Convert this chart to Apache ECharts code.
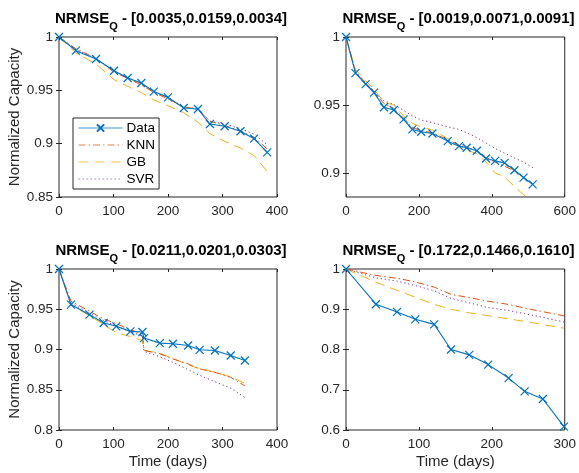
<!DOCTYPE html>
<html>
<head>
<meta charset="utf-8">
<script src="https://cdn.jsdelivr.net/npm/echarts@6/dist/echarts.min.js"></script>
<style>html,body{margin:0;padding:0;background:#fff}#c{width:579px;height:473px}</style>
</head>
<body>
<div id="c"></div>
<script>
// ---------- data ----------
const seriesNames = ['Data', 'KNN', 'GB', 'SVR'];
const titleErrors = ['[0.0035,0.0159,0.0034]', '[0.0019,0.0071,0.0091]', '[0.0211,0.0201,0.0303]', '[0.1722,0.1466,0.1610]'];

const p1Days = [0, 31, 68, 101, 126, 151, 174, 200, 229, 255, 277, 304, 333, 358, 382];
const p1Data = [1, 0.9872, 0.9794, 0.9684, 0.9616, 0.9569, 0.9488, 0.9434, 0.9334, 0.9325, 0.9184, 0.9163, 0.9116, 0.9047, 0.8919];
const p1KNN  = [1, 0.9890, 0.9800, 0.9670, 0.9612, 0.9550, 0.9480, 0.9420, 0.9345, 0.9320, 0.9210, 0.9170, 0.9120, 0.9060, 0.8950];
const p1GB   = [1, 0.9850, 0.9747, 0.9600, 0.9537, 0.9480, 0.9410, 0.9356, 0.9290, 0.9200, 0.9094, 0.9022, 0.8959, 0.8888, 0.8740];
const p1SVR  = [1, 0.9880, 0.9800, 0.9680, 0.9620, 0.9565, 0.9490, 0.9435, 0.9340, 0.9330, 0.9210, 0.9185, 0.9140, 0.9090, 0.8990];

const p2Days = [0, 26, 54, 77, 104, 131, 158, 182, 206, 237, 279, 310, 331, 359, 384, 409, 435, 462, 487, 512];
const p2Data = [1, 0.9734, 0.9653, 0.9591, 0.9483, 0.9463, 0.9394, 0.9320, 0.9303, 0.9290, 0.9234, 0.9197, 0.9185, 0.9163, 0.9106, 0.9089, 0.9074, 0.9020, 0.8966, 0.8916];
const p2KNN  = [1, 0.9745, 0.9665, 0.9600, 0.9510, 0.9475, 0.9405, 0.9335, 0.9310, 0.9295, 0.9245, 0.9205, 0.9190, 0.9160, 0.9115, 0.9080, 0.9050, 0.9015, 0.8970, 0.8920];
const p2GB   = [1, 0.9760, 0.9680, 0.9615, 0.9520, 0.9500, 0.9420, 0.9365, 0.9340, 0.9315, 0.9254, 0.9200, 0.9170, 0.9140, 0.9080, 0.9000, 0.8970, 0.8900, 0.8840, 0.8800];
const p2SVR  = [1, 0.9740, 0.9660, 0.9600, 0.9530, 0.9505, 0.9460, 0.9420, 0.9390, 0.9370, 0.9340, 0.9320, 0.9295, 0.9260, 0.9220, 0.9180, 0.9145, 0.9110, 0.9080, 0.9040];

const p3Days = [0, 22, 56, 82, 105, 131, 153, 156, 185, 209, 237, 258, 286, 315, 341];
const p3Data = [1, 0.9558, 0.9433, 0.9329, 0.9288, 0.9225, 0.9217, 0.9142, 0.9079, 0.9071, 0.9050, 0.8996, 0.8988, 0.8925, 0.8863];
const p3KNN  = [1, 0.9600, 0.9475, 0.9380, 0.9320, 0.9246, 0.9196, 0.8990, 0.8946, 0.8883, 0.8820, 0.8760, 0.8717, 0.8654, 0.8550];
const p3GB   = [1, 0.9550, 0.9420, 0.9310, 0.9210, 0.9160, 0.9110, 0.8990, 0.8950, 0.8890, 0.8810, 0.8760, 0.8720, 0.8660, 0.8580];
const p3SVR  = [1, 0.9580, 0.9450, 0.9360, 0.9290, 0.9220, 0.9170, 0.8975, 0.8910, 0.8840, 0.8750, 0.8680, 0.8600, 0.8520, 0.8404];

const p4Days = [0, 41, 70, 95, 121, 144, 169, 195, 223, 245, 270, 299];
const p4Data = [1, 0.9125, 0.8933, 0.8750, 0.8625, 0.8000, 0.7867, 0.7625, 0.7290, 0.6960, 0.6770, 0.6083];
const p4KNN  = [1, 0.9840, 0.9770, 0.9680, 0.9550, 0.9370, 0.9290, 0.9200, 0.9120, 0.9030, 0.8940, 0.8835];
const p4GB   = [1, 0.9670, 0.9470, 0.9300, 0.9120, 0.9000, 0.8910, 0.8840, 0.8760, 0.8700, 0.8620, 0.8530];
const p4SVR  = [1, 0.9780, 0.9700, 0.9590, 0.9460, 0.9270, 0.9160, 0.9040, 0.8970, 0.8890, 0.8800, 0.8680];

// axis tick definitions
const xTicks = [[0,100,200,300,400],[0,200,400,600],[0,100,200,300,400],[0,100,200,300]];
const yTicks = [[0.85,0.9,0.95,1],[0.9,0.95,1],[0.8,0.85,0.9,0.95,1],[0.6,0.7,0.8,0.9,1]];
const yMins = [0.85, 0.8823, 0.8, 0.6];

// ---------- layout / style ----------
const FONT = '"Liberation Sans", Arial, Helvetica, sans-serif';
const AX = '#262626';
const grids = [
  {left: 59, top: 37, width: 218, height: 160},
  {left: 346, top: 37, width: 219, height: 160},
  {left: 59, top: 269, width: 218, height: 161},
  {left: 346, top: 269, width: 219, height: 161}
];
const panels = [
  {days: p1Days, vals: [p1Data, p1KNN, p1GB, p1SVR]},
  {days: p2Days, vals: [p2Data, p2KNN, p2GB, p2SVR]},
  {days: p3Days, vals: [p3Data, p3KNN, p3GB, p3SVR]},
  {days: p4Days, vals: [p4Data, p4KNN, p4GB, p4SVR]}
];
const styles = [
  {color: '#0072BD', type: 'solid', width: 1.1},
  {color: '#D95319', type: [7, 3, 1.5, 3], width: 1},
  {color: '#EDB120', type: [10, 6], width: 1},
  {color: '#7E2F8E', type: [1.2, 2.8], width: 1}
];
const XMARK = 'path://M0,0L10,10M10,0L0,10';

const option = {
  animation: false,
  backgroundColor: '#fff',
  textStyle: {fontFamily: FONT},
  grid: grids.map(g => Object.assign({show: true, borderColor: AX, borderWidth: 1, backgroundColor: 'transparent', containLabel: false}, g)),
  xAxis: [], yAxis: [], series: [], graphic: [],
  legend: {
    data: seriesNames.map((n, k) => {
      const st = styles[k];
      const item = {name: n, lineStyle: {color: st.color, type: st.type, width: st.width, opacity: 0.75}};
      if (k > 0) item.itemStyle = {opacity: 0};
      return item;
    }),
    orient: 'vertical', left: 73, top: 118,
    itemWidth: 44, itemHeight: 9, itemGap: 3,
    borderColor: AX, borderWidth: 1, borderRadius: 0, backgroundColor: '#fff',
    padding: [3, 4, 3, 5],
    textStyle: {fontSize: 13.5, color: '#000', fontFamily: FONT, padding: [0, 0, 0, -1]},
    selectedMode: false
  }
};

panels.forEach((p, i) => {
  const xt = xTicks[i], yt = yTicks[i];
  const xMin = xt[0], xMax = xt[xt.length - 1];
  const xInt = xt[1] - xt[0];
  const common = {gridIndex: i, type: 'value', splitLine: {show: false}, axisLine: {show: false}};
  option.xAxis.push(Object.assign({}, common, {
    position: 'bottom', min: xMin, max: xMax, interval: xInt,
    axisTick: {inside: true, length: 3, lineStyle: {color: AX}},
    axisLabel: {fontSize: 13.5, color: AX, margin: 7, fontFamily: FONT},
    name: i >= 2 ? 'Time (days)' : '', nameLocation: 'middle', nameGap: 24,
    nameTextStyle: {fontSize: 15, color: AX, fontFamily: FONT}
  }));
  option.xAxis.push(Object.assign({}, common, {
    position: 'top', min: xMin, max: xMax, interval: xInt,
    axisTick: {inside: true, length: 3, lineStyle: {color: AX}},
    axisLabel: {show: false}
  }));
  const yMin = yMins[i], yMax = 1;
  const yAx = {
    min: yMin, max: yMax,
    axisTick: {inside: true, length: 3, lineStyle: {color: AX}, customValues: yt}
  };
  option.yAxis.push(Object.assign({}, common, yAx, {
    position: 'left',
    axisLabel: {fontSize: 13.5, color: AX, margin: 6, fontFamily: FONT, customValues: yt,
      formatter: v => String(+v.toFixed(4))},
    name: (i % 2 === 0) ? 'Normalized Capacity' : '', nameLocation: 'middle', nameGap: 35,
    nameTextStyle: {fontSize: 15, color: AX, fontFamily: FONT}
  }));
  option.yAxis.push(Object.assign({}, common, yAx, {
    position: 'right', axisLabel: {show: false}
  }));

  p.vals.forEach((vals, k) => {
    const st = styles[k];
    option.series.push({
      name: seriesNames[k], type: 'line', xAxisIndex: 2 * i, yAxisIndex: 2 * i,
      data: p.days.map((d, j) => [d, vals[j]]),
      clip: true,
      symbol: k === 0 ? XMARK : 'none',
      symbolSize: 8,
      showAllSymbol: true,
      itemStyle: {color: st.color, borderColor: st.color, borderWidth: 1.2},
      lineStyle: {color: st.color, type: st.type, width: st.width},
      z: 10 - k
    });
  });

  const g = grids[i];
  option.graphic.push({
    type: 'text', silent: true,
    x: g.left + g.width / 2 + 3, y: g.top - 11,
    style: {
      text: '{a|NRMSE}{s|Q}{a| - ' + titleErrors[i] + '}',
      align: 'center', verticalAlign: 'bottom',
      rich: {
        a: {fontSize: 15, fontWeight: 'bold', fill: '#000', fontFamily: FONT, lineHeight: 18, verticalAlign: 'bottom'},
        s: {fontSize: 11, fontWeight: 'bold', fill: '#000', fontFamily: FONT, lineHeight: 18, verticalAlign: 'bottom', padding: [0, 0, -6, 0]}
      }
    }
  });
});

const chart = echarts.init(document.getElementById('c'), null, {renderer: 'canvas'});
chart.setOption(option);
</script>
</body>
</html>
